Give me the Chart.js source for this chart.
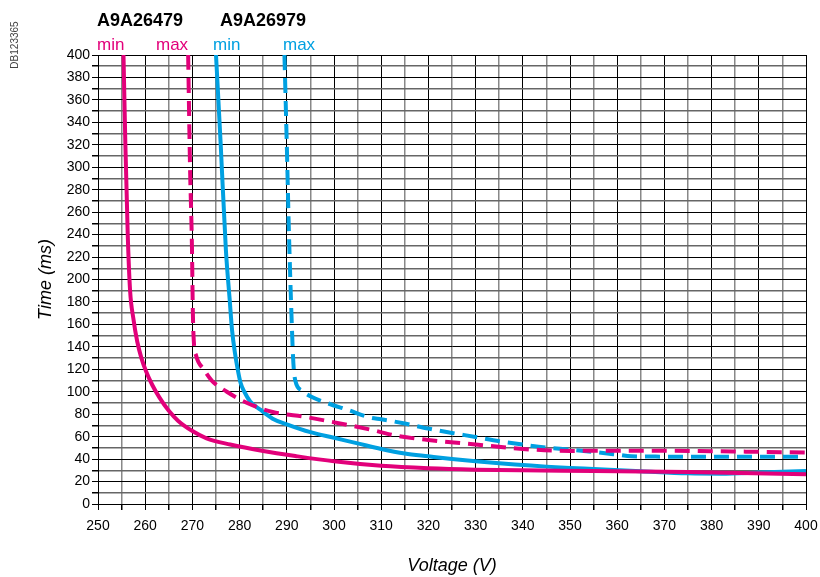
<!DOCTYPE html>
<html>
<head>
<meta charset="utf-8">
<title>Tripping curves</title>
<script src="https://cdn.jsdelivr.net/npm/chart.js@4.4.1/dist/chart.umd.min.js"></script>
<style>
    body { margin: 0; background: #fff; }
    canvas { display: block; }
</style>
</head>
<body>
<canvas id="curve-chart" width="820" height="577"></canvas>
<script>
// A9A26479 (pink) - min and max curves
const a26479MinVoltage = [255.4, 255.8, 256.3, 256.8, 257.5, 258.3, 259.2, 260.2, 261.5, 263, 265, 267, 270, 273, 278, 285, 292, 300, 310, 320, 330, 340, 355, 375, 400];
const a26479MinTime    = [400, 320, 240, 190, 165, 145, 130, 118, 106, 95, 83, 74, 65, 58.5, 53, 47.2, 42.6, 38, 34, 31.8, 30.6, 30, 29.5, 28.5, 26.5];
const a26479MaxVoltage = [269.1, 269.5, 269.9, 270.1, 270.3, 270.8, 272.4, 274.1, 277.3, 281.6, 287, 294, 301, 308, 313, 320, 330, 340, 350, 360, 370, 380, 390, 400];
const a26479MaxTime    = [400, 300, 230, 170, 145, 132, 120, 110, 100, 90, 82, 77.5, 72, 66, 61, 57, 53, 49, 47.3, 47.5, 47.5, 47, 46.5, 45.8];

// A9A26979 (blue) - min and max curves
const a26979MinVoltage = [275, 276, 277.1, 277.9, 278.4, 279, 279.6, 280.2, 281, 282.3, 284.4, 287, 290, 295, 300, 305, 310, 315, 320, 325, 330, 335, 340, 345, 350, 355, 365, 375, 382, 390, 400];
const a26979MinTime    = [400, 320, 226, 182, 155, 135, 120, 108, 100, 91, 84, 76, 71, 64, 59, 54, 49, 45, 42.5, 40.1, 38.1, 36.3, 34.8, 33.3, 32.1, 31.2, 29.2, 27.3, 27, 28, 29.5];
const a26979MaxVoltage = [289.5, 290, 290.4, 291.1, 291.4, 291.8, 293.2, 295, 298.5, 302.8, 307.7, 310, 315, 320, 325, 330, 335, 340, 345, 350, 355, 360, 363, 370, 380, 390, 400];
const a26979MaxTime    = [400, 320, 250, 155, 125, 110, 101, 96, 90, 84, 77, 75.5, 71.7, 67.2, 63.3, 59.7, 55.9, 52.9, 50.3, 48.5, 46.4, 44, 42.5, 42.2, 42.2, 42.2, 42.2];

const voltageRange = [250, 400];
const timeRange = [0, 400];

const PINK = "#e2007a";
const BLUE = "#00a0e1";
const FONT = "'Liberation Sans', Arial, Helvetica, sans-serif";

function toPoints(xs, ys) {
    return xs.map((x, i) => ({ x: x, y: ys[i] }));
}

// header labels above the grid (product refs and min/max keys)
const headerLabels = {
    id: "headerLabels",
    afterDraw(chart) {
        const c = chart.ctx;
        c.save();
        c.textBaseline = "alphabetic";
        c.textAlign = "left";
        c.fillStyle = "#000";
        c.font = "bold 18px " + FONT;
        c.fillText("A9A26479", 97, 26);
        c.fillText("A9A26979", 220, 26);
        c.font = "17px " + FONT;
        c.fillStyle = PINK;
        c.fillText("min", 97, 50);
        c.fillText("max", 156, 50);
        c.fillStyle = BLUE;
        c.fillText("min", 213, 50);
        c.fillText("max", 283, 50);
        // drawing reference, vertical
        c.translate(18, 45);
        c.rotate(-Math.PI / 2);
        c.textAlign = "center";
        c.fillStyle = "#444";
        c.font = "10px " + FONT;
        c.fillText("DB123365", 0, 0);
        c.restore();
    }
};

document.addEventListener("DOMContentLoaded", () => {
    const ctx = document.getElementById("curve-chart").getContext("2d");

    const lineStyle = (color, dashed) => ({
        borderColor: color,
        borderWidth: 4,
        borderDash: dashed ? [15, 8] : [],
        pointRadius: 0,
        fill: false,
        cubicInterpolationMode: "monotone"
    });

    new Chart(ctx, {
        type: "line",
        data: {
            datasets: [
                { label: "A9A26479 min", data: toPoints(a26479MinVoltage, a26479MinTime), ...lineStyle(PINK, false) },
                { label: "A9A26479 max", data: toPoints(a26479MaxVoltage, a26479MaxTime), ...lineStyle(PINK, true) },
                { label: "A9A26979 min", data: toPoints(a26979MinVoltage, a26979MinTime), ...lineStyle(BLUE, false) },
                { label: "A9A26979 max", data: toPoints(a26979MaxVoltage, a26979MaxTime), ...lineStyle(BLUE, true) }
            ]
        },
        options: {
            responsive: false,
            animation: false,
            layout: { padding: { top: 55, right: 14, left: 0, bottom: 0 } },
            plugins: {
                legend: { display: false },
                tooltip: { enabled: false }
            },
            scales: {
                x: {
                    type: "linear",
                    min: voltageRange[0],
                    max: voltageRange[1],
                    afterFit: s => {
                        s.height = 73;
                        s.paddingLeft = 0;
                        s.paddingRight = 0;
                    },
                    ticks: {
                        stepSize: 5,
                        autoSkip: false,
                        maxRotation: 0,
                        padding: 8,
                        color: "#000",
                        font: { family: FONT, size: 14 },
                        callback: v => (v % 10 === 0 ? v : "")
                    },
                    grid: {
                        color: c => (c.tick && c.tick.value % 10 === 0 ? "#000" : "#888"),
                        lineWidth: c => (c.tick && c.tick.value % 10 === 0 ? 1 : 1.5),
                        tickColor: "#000",
                        tickLength: 6
                    },
                    border: { color: "#000", width: 1 },
                    title: {
                        display: true,
                        text: "Voltage (V)",
                        color: "#000",
                        padding: { top: 0, bottom: 0 },
                        font: { family: FONT, size: 18, style: "italic" }
                    }
                },
                y: {
                    min: timeRange[0],
                    max: timeRange[1],
                    afterFit: s => {
                        s.width = 98;
                        s.paddingTop = 0;
                        s.paddingBottom = 0;
                    },
                    ticks: {
                        stepSize: 10,
                        autoSkip: false,
                        padding: 2,
                        color: "#000",
                        font: { family: FONT, size: 14 },
                        callback: v => (v % 20 === 0 ? v : "")
                    },
                    grid: {
                        color: c => (c.tick && c.tick.value % 20 === 0 ? "#000" : "#666"),
                        lineWidth: c => (c.tick && c.tick.value % 20 === 0 ? 1 : 1.5),
                        tickColor: "#000",
                        tickLength: 6
                    },
                    border: { color: "#000", width: 1 },
                    title: {
                        display: true,
                        text: "Time (ms)",
                        color: "#000",
                        padding: { top: 35, bottom: 0 },
                        font: { family: FONT, size: 18, style: "italic" }
                    }
                }
            }
        },
        plugins: [headerLabels]
    });
});
</script>
</body>
</html>
